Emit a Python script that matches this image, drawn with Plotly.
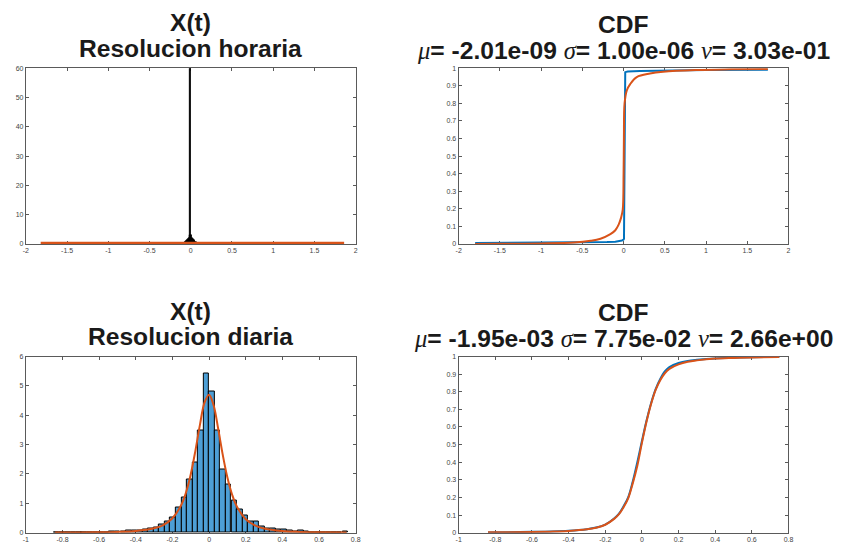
import plotly.graph_objects as go

W, H = 844, 551
OFF = 8  # default page body margin of the browser

# ---------------- data ----------------
# hourly histogram (pdf-normalised), bin centres and heights
hourly_bin_centers = [-0.15, -0.14, -0.13, -0.12, -0.11, -0.10, -0.09, -0.08, -0.07, -0.06,
                      -0.05, -0.04, -0.03, -0.02, -0.01, 0.0, 0.01, 0.02, 0.03, 0.04,
                      0.05, 0.06, 0.07, 0.08, 0.09, 0.10, 0.11, 0.12, 0.13, 0.14, 0.15]
hourly_heights = [0.03, 0.05, 0.07, 0.10, 0.15, 0.20, 0.27, 0.35, 0.45, 0.60,
                  0.80, 1.10, 1.50, 2.00, 3.00, 60.0, 3.00, 2.00, 1.50, 1.10,
                  0.80, 0.60, 0.45, 0.35, 0.27, 0.20, 0.15, 0.10, 0.07, 0.05, 0.03]
hourly_bin_width = 0.01
hourly_pdf_x = [-1.82, -1.5, -1.0, -0.5, 0.0, 0.5, 1.0, 1.5, 1.86]
hourly_pdf_y = [0.0, 0.0, 0.0, 0.0, 0.0, 0.0, 0.0, 0.0, 0.0]

# hourly CDF
hourly_ecdf_x = [-1.80, -1.0, -0.5, -0.2, -0.1, -0.05, -0.02, 0.0, 0.005, 0.02, 0.05, 0.2, 0.5, 1.0, 1.75]
hourly_ecdf_y = [0.006, 0.007, 0.009, 0.011, 0.013, 0.016, 0.02, 0.025, 0.03, 0.978, 0.982, 0.985, 0.988, 0.99, 0.991]
hourly_fcdf_x = [-1.80, -1.5, -1.0, -0.6, -0.4, -0.28, -0.16, -0.1, -0.06, -0.03, -0.01, 0.0,
                 0.004, 0.012, 0.04, 0.08, 0.16, 0.32, 0.48, 0.88, 1.3, 1.75]
hourly_fcdf_y = [0.0, 0.001, 0.003, 0.008, 0.018, 0.03, 0.056, 0.078, 0.11, 0.15, 0.195, 0.40,
                 0.61, 0.80, 0.875, 0.91, 0.95, 0.97, 0.98, 0.99, 0.994, 0.996]

# daily histogram
daily_bin_centers = [-0.833, -0.803, -0.772, -0.742, -0.712, -0.682, -0.651, -0.621, -0.591, -0.560,
                     -0.530, -0.500, -0.469, -0.439, -0.409, -0.379, -0.348, -0.318, -0.288, -0.257,
                     -0.227, -0.197, -0.166, -0.136, -0.106, -0.076, -0.045, -0.015, 0.015, 0.046,
                     0.076, 0.106, 0.137, 0.167, 0.197, 0.228, 0.258, 0.288, 0.318, 0.349,
                     0.379, 0.409, 0.440, 0.470, 0.500, 0.531, 0.561, 0.591, 0.621, 0.652,
                     0.682, 0.712, 0.743]
daily_heights = [0.01, 0.0, 0.0, 0.0, 0.01, 0.0, 0.01, 0.01, 0.02, 0.02,
                 0.03, 0.04, 0.05, 0.06, 0.07, 0.09, 0.10, 0.13, 0.18, 0.27,
                 0.38, 0.51, 0.87, 1.21, 1.80, 2.40, 3.48, 5.42, 4.80, 3.48,
                 2.16, 1.63, 1.09, 0.79, 0.60, 0.37, 0.37, 0.20, 0.15, 0.13,
                 0.10, 0.11, 0.06, 0.05, 0.07, 0.03, 0.02, 0.02, 0.01, 0.01,
                 0.0, 0.01, 0.04]
daily_bin_width = 0.0303
daily_pdf_x = [-0.84, -0.7, -0.6, -0.5, -0.4, -0.3, -0.25, -0.2, -0.15, -0.125, -0.1, -0.075,
               -0.05, -0.025, 0.0, 0.025, 0.05, 0.075, 0.1, 0.125, 0.15, 0.2, 0.25, 0.3,
               0.4, 0.5, 0.6, 0.75]
daily_pdf_y = [0.005, 0.009, 0.015, 0.028, 0.059, 0.15, 0.26, 0.49, 0.97, 1.39, 1.99, 2.78,
               3.67, 4.43, 4.70, 4.33, 3.53, 2.64, 1.88, 1.31, 0.91, 0.46, 0.25, 0.144,
               0.057, 0.027, 0.014, 0.0065]

# daily CDF
daily_fcdf_x = [-0.84, -0.6, -0.5, -0.4, -0.3, -0.25, -0.2, -0.15, -0.125, -0.1, -0.075, -0.05,
                -0.025, 0.0, 0.025, 0.05, 0.075, 0.1, 0.125, 0.15, 0.2, 0.25, 0.3, 0.4, 0.5, 0.6, 0.75]
daily_fcdf_y = [0.002, 0.004, 0.006, 0.010, 0.019, 0.028, 0.045, 0.08, 0.105, 0.145, 0.195, 0.28,
                0.38, 0.51, 0.63, 0.73, 0.81, 0.865, 0.905, 0.93, 0.955, 0.97, 0.978, 0.988, 0.992, 0.995, 0.997]
daily_ecdf_x = [-0.84, -0.6, -0.5, -0.4, -0.3, -0.25, -0.2, -0.15, -0.125, -0.1, -0.075, -0.05,
                -0.025, 0.0, 0.025, 0.05, 0.075, 0.1, 0.125, 0.15, 0.2, 0.25, 0.3, 0.4, 0.5, 0.6, 0.75]
daily_ecdf_y = [0.001, 0.005, 0.007, 0.011, 0.020, 0.029, 0.046, 0.082, 0.108, 0.15, 0.20, 0.29,
                0.40, 0.52, 0.635, 0.735, 0.815, 0.872, 0.915, 0.94, 0.963, 0.975, 0.981, 0.989, 0.993, 0.996, 0.998]

# tick labels
x_ticks_hourly = [-2, -1.5, -1, -0.5, 0, 0.5, 1, 1.5, 2]
x_ticktext_hourly = ["-2", "-1.5", "-1", "-0.5", "0", "0.5", "1", "1.5", "2"]
x_ticks_daily = [-1, -0.8, -0.6, -0.4, -0.2, 0, 0.2, 0.4, 0.6, 0.8]
x_ticktext_daily = ["-1", "-0.8", "-0.6", "-0.4", "-0.2", "0", "0.2", "0.4", "0.6", "0.8"]
y_ticks_hist_hourly = [0, 10, 20, 30, 40, 50, 60]
y_ticks_hist_daily = [0, 1, 2, 3, 4, 5, 6]
y_ticks_cdf = [0, 0.1, 0.2, 0.3, 0.4, 0.5, 0.6, 0.7, 0.8, 0.9, 1]
y_ticktext_cdf = ["0", "0.1", "0.2", "0.3", "0.4", "0.5", "0.6", "0.7", "0.8", "0.9", "1"]

titles = [
    ("X(t)", "Resolucion horaria"),
    ("CDF", [("μ", "= -2.01e-09 "), ("σ", "= 1.00e-06 "), ("ν", "= 3.03e-01")]),
    ("X(t)", "Resolucion diaria"),
    ("CDF", [("μ", "= -1.95e-03 "), ("σ", "= 7.75e-02 "), ("ν", "= 2.66e+00")]),
]

# ---------------- style ----------------
BLUE = "#0072BD"
ORANGE = "#D95319"
HIST_FILL = "#4d9fd6"
AX = "#5a5a5a"
TICKFONT = dict(family="Liberation Sans, Arial, sans-serif", size=7, color="#444444")
TITLEFONT = dict(family="Liberation Sans, Arial, sans-serif", size=24.6, color="#1a1a1a")

FW, FH = W - OFF, H - OFF

def px_x(p):
    return (p - OFF) / FW

def px_y(p):
    return 1 - (p - OFF) / FH

fig = go.Figure()

# subplot 1: hourly histogram
fig.add_trace(go.Bar(x=hourly_bin_centers, y=hourly_heights, width=hourly_bin_width,
                     marker=dict(color="#1e1e1e", line=dict(color="black", width=1)),
                     xaxis="x", yaxis="y", showlegend=False))
# fitted pdf (flat at 0) drawn on an overlay axis so the full line width shows over the box
fig.add_trace(go.Scatter(x=hourly_pdf_x, y=hourly_pdf_y, mode="lines", cliponaxis=False,
                         line=dict(color=ORANGE, width=2.2), xaxis="x", yaxis="y5", showlegend=False))
# subplot 2: hourly CDF
fig.add_trace(go.Scatter(x=hourly_ecdf_x, y=hourly_ecdf_y, mode="lines", cliponaxis=False,
                         line=dict(color=BLUE, width=2), xaxis="x2", yaxis="y2", showlegend=False))
fig.add_trace(go.Scatter(x=hourly_fcdf_x, y=hourly_fcdf_y, mode="lines", line_shape="spline",
                         cliponaxis=False,
                         line=dict(color=ORANGE, width=2), xaxis="x2", yaxis="y2", showlegend=False))
# subplot 3: daily histogram
fig.add_trace(go.Bar(x=daily_bin_centers, y=daily_heights, width=daily_bin_width,
                     marker=dict(color=HIST_FILL, line=dict(color="black", width=1)),
                     xaxis="x3", yaxis="y3", showlegend=False))
fig.add_trace(go.Scatter(x=daily_pdf_x, y=daily_pdf_y, mode="lines", line_shape="spline",
                         cliponaxis=False,
                         line=dict(color=ORANGE, width=2), xaxis="x3", yaxis="y3", showlegend=False))
# subplot 4: daily CDF
fig.add_trace(go.Scatter(x=daily_ecdf_x, y=daily_ecdf_y, mode="lines", line_shape="spline",
                         cliponaxis=False,
                         line=dict(color=BLUE, width=2), xaxis="x4", yaxis="y4", showlegend=False))
fig.add_trace(go.Scatter(x=daily_fcdf_x, y=daily_fcdf_y, mode="lines", line_shape="spline",
                         cliponaxis=False,
                         line=dict(color=ORANGE, width=2), xaxis="x4", yaxis="y4", showlegend=False))

common = dict(showline=True, linecolor=AX, linewidth=1, mirror="ticks", ticks="inside",
              ticklen=3, tickcolor=AX, showgrid=False, zeroline=False, tickfont=TICKFONT,
              fixedrange=True, layer="below traces")

dom_left = [px_x(23), px_x(356)]
dom_right = [px_x(460), px_x(793)]
dom_top = [px_y(243), px_y(65)]
dom_bot = [px_y(535.5), px_y(357)]

top_h_px = 243 - 65
shift_units = 60 / top_h_px * 1.1  # ~1 px

fig.update_layout(
    width=FW, height=FH, margin=dict(l=0, r=0, t=0, b=0),
    paper_bgcolor="white", plot_bgcolor="white", bargap=0, barmode="overlay",
    xaxis=dict(domain=dom_left, anchor="y", range=[-2, 2], tickvals=x_ticks_hourly,
               ticktext=x_ticktext_hourly, **common),
    yaxis=dict(domain=dom_top, anchor="x", range=[0, 60], tickvals=y_ticks_hist_hourly, **common),
    yaxis5=dict(overlaying="y", anchor="x", range=[-shift_units, 60 - shift_units], visible=False,
                fixedrange=True),
    xaxis2=dict(domain=dom_right, anchor="y2", range=[-2, 2], tickvals=x_ticks_hourly,
                ticktext=x_ticktext_hourly, **common),
    yaxis2=dict(domain=dom_top, anchor="x2", range=[0, 1], tickvals=y_ticks_cdf,
                ticktext=y_ticktext_cdf, **common),
    xaxis3=dict(domain=dom_left, anchor="y3", range=[-1, 0.8], tickvals=x_ticks_daily,
                ticktext=x_ticktext_daily, **common),
    yaxis3=dict(domain=dom_bot, anchor="x3", range=[0, 6], tickvals=y_ticks_hist_daily, **common),
    xaxis4=dict(domain=dom_right, anchor="y4", range=[-1, 0.8], tickvals=x_ticks_daily,
                ticktext=x_ticktext_daily, **common),
    yaxis4=dict(domain=dom_bot, anchor="x4", range=[0, 1], tickvals=y_ticks_cdf,
                ticktext=y_ticktext_cdf, **common),
)

GREEK = "<span style=\"font-family:'Liberation Serif', 'Times New Roman', serif;font-style:italic;font-weight:normal\">{}</span>"

def line2_text(spec):
    if isinstance(spec, str):
        return "<b>" + spec + "</b>"
    return "".join(GREEK.format(g) + "<b>" + t + "</b>" for g, t in spec)

centers_x = [(23 + 356) / 2, (460 + 793) / 2, (23 + 356) / 2, (460 + 793) / 2]
line1_y = [19, 21, 311, 312]
line2_y = [45, 47, 337, 339]
for (t1, t2), cx, y1, y2 in zip(titles, centers_x, line1_y, line2_y):
    fig.add_annotation(x=px_x(cx), y=px_y(y1), xref="paper", yref="paper", text="<b>" + t1 + "</b>",
                       showarrow=False, xanchor="center", yanchor="middle", font=TITLEFONT)
    fig.add_annotation(x=px_x(cx), y=px_y(y2), xref="paper", yref="paper", text=line2_text(t2),
                       showarrow=False, xanchor="center", yanchor="middle", font=TITLEFONT)

fig.write_html("out.html")
